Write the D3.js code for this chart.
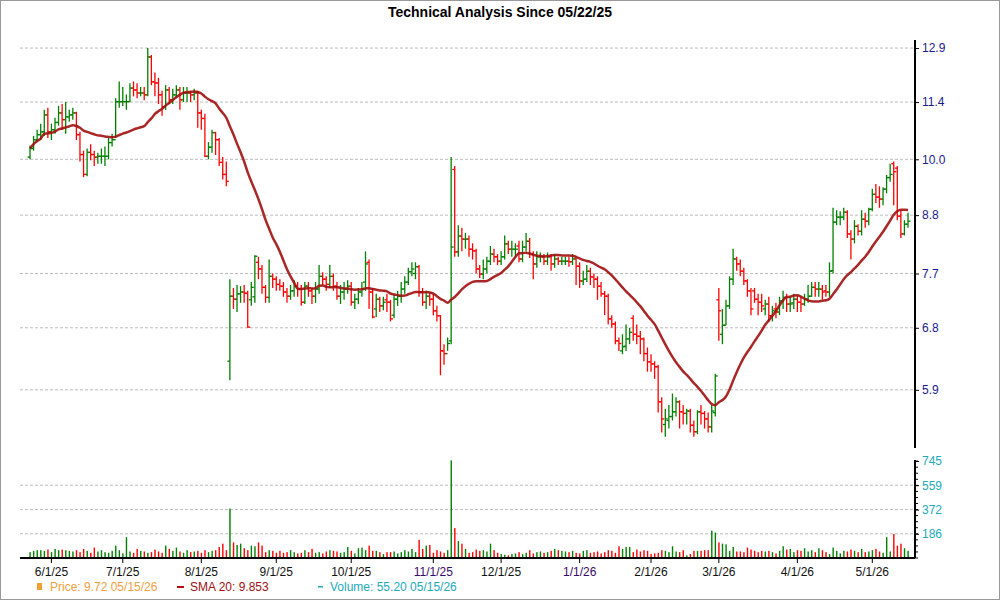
<!DOCTYPE html>
<html><head><meta charset="utf-8">
<script src="https://cdn.jsdelivr.net/npm/d3@7"></script>
<style>body{margin:0;background:#fff}svg{font-family:Arial,"Liberation Sans",sans-serif}</style>
</head><body><svg id="c" width="1000" height="600"></svg>
<script>
const holidays=["2025-05-26","2025-06-19","2025-07-04","2025-09-01","2025-11-27","2025-12-25","2026-01-01","2026-01-19","2026-02-16","2026-04-03"];
const priceTicks=[5.9,6.8,7.7,8.8,10.0,11.4,12.9];
const volTicks=[186,372,559,745];
const closeV=[10.25,10.46,10.58,10.65,11.07,10.65,10.70,10.88,11.12,10.95,
11.02,11.07,11.12,10.58,10.11,9.66,10.16,10.11,10.05,10.07,
10.07,10.07,10.39,10.46,11.41,11.41,11.41,11.41,11.77,11.72,
11.64,11.64,11.59,12.64,11.94,11.91,11.59,11.28,11.72,11.46,
11.59,11.72,11.46,11.64,11.64,11.59,11.64,11.12,10.98,10.07,
10.28,10.63,10.46,9.93,9.66,9.51,7.31,7.26,7.35,7.38,
7.36,6.81,7.46,8.01,7.78,7.46,7.29,7.65,7.60,7.51,
7.48,7.38,7.31,7.40,7.48,7.43,7.21,7.48,7.40,7.31,
7.43,7.65,7.60,7.51,7.65,7.48,7.31,7.38,7.43,7.48,
7.21,7.26,7.38,7.43,7.87,7.38,6.97,7.26,7.15,7.21,
7.21,6.94,7.26,7.31,7.43,7.55,7.73,7.78,7.82,7.38,
7.21,7.31,7.26,7.07,6.99,6.45,6.41,6.56,8.18,8.09,
8.39,8.33,8.33,8.14,8.11,7.78,7.69,7.78,7.92,8.05,
8.00,7.92,8.00,8.24,8.14,8.14,8.14,7.96,8.18,8.29,
8.05,7.87,8.00,8.00,7.92,8.00,7.87,7.96,7.92,7.92,
7.92,7.91,7.96,7.83,7.57,7.60,7.74,7.64,7.60,7.48,
7.35,7.31,6.94,6.86,6.60,6.56,6.51,6.63,6.73,6.70,
6.67,6.63,6.41,6.29,6.26,6.22,5.74,5.52,5.52,5.55,
5.61,5.74,5.61,5.59,5.62,5.44,5.36,5.61,5.59,5.52,
5.42,5.62,6.09,7.07,6.84,7.15,7.60,7.96,7.87,7.74,
7.57,7.40,7.10,7.26,7.21,7.15,7.18,6.99,7.07,7.05,
7.23,7.29,7.18,7.18,7.26,7.21,7.18,7.26,7.31,7.46,
7.43,7.43,7.38,7.38,7.74,8.66,8.76,8.76,8.86,8.43,
8.33,8.58,8.48,8.72,8.68,8.92,9.23,9.17,9.13,9.34,
9.59,9.66,9.72,8.78,8.43,8.62,8.68];
const openV=[10.05,10.25,10.46,10.58,10.65,11.07,10.65,10.70,10.88,11.12,
10.95,11.02,11.07,11.12,10.58,10.11,9.66,10.16,10.11,10.05,
10.07,10.07,10.07,10.39,10.46,11.41,11.41,11.41,11.41,11.77,
11.72,11.64,11.64,11.59,12.64,11.94,11.91,11.59,11.28,11.72,
11.46,11.59,11.72,11.46,11.64,11.64,11.59,11.64,11.12,10.98,
10.07,10.28,10.63,10.46,9.93,9.66,6.30,7.31,7.26,7.35,
7.38,7.36,7.25,7.30,7.90,7.78,7.46,7.29,7.65,7.60,
7.51,7.48,7.38,7.31,7.40,7.48,7.43,7.21,7.48,7.40,
7.31,7.43,7.65,7.60,7.51,7.65,7.48,7.31,7.38,7.43,
7.48,7.21,7.26,7.38,7.55,7.90,7.38,7.10,7.26,7.15,
7.25,7.21,7.00,7.26,7.31,7.43,7.55,7.73,7.70,7.82,
7.38,7.21,7.31,7.26,7.07,6.99,6.45,6.41,6.60,9.77,
8.09,8.39,8.33,8.33,8.14,8.11,7.78,7.69,7.78,7.92,
8.05,8.00,7.92,8.00,8.24,8.14,8.14,8.20,7.96,8.18,
8.29,8.05,7.87,8.00,8.00,7.92,8.00,7.87,7.96,7.92,
7.92,7.92,7.91,7.96,7.83,7.57,7.60,7.74,7.64,7.60,
7.48,7.35,7.31,6.94,6.86,6.60,6.45,6.52,6.63,6.95,
6.70,6.67,6.63,6.41,6.29,6.26,6.22,5.74,5.45,5.50,
5.55,5.61,5.74,5.61,5.59,5.62,5.44,5.36,5.61,5.59,
5.52,5.42,5.60,7.25,6.70,6.84,7.15,7.60,7.96,7.87,
7.74,7.57,7.40,7.40,7.26,7.21,7.10,7.18,6.99,7.10,
7.05,7.23,7.29,7.18,7.20,7.26,7.21,7.18,7.26,7.31,
7.46,7.43,7.43,7.40,7.38,7.75,8.66,8.76,8.76,8.86,
8.43,8.33,8.58,8.48,8.72,8.68,8.92,9.23,9.17,9.13,
9.34,9.59,9.90,9.80,8.78,8.43,8.62];
const highV=[10.32,10.55,10.70,10.85,11.20,11.25,10.85,11.00,11.30,11.35,
11.40,11.20,11.25,11.15,10.65,10.20,10.25,10.35,10.20,10.15,
10.25,10.30,10.50,10.60,11.50,11.95,11.80,11.60,11.90,11.95,
11.90,11.80,11.80,12.90,12.70,12.20,12.05,11.70,11.85,11.80,
11.75,11.85,11.80,11.80,11.80,11.70,11.75,11.70,11.20,11.10,
10.40,10.70,10.65,10.50,10.05,9.95,7.60,7.45,7.50,7.48,
7.50,7.40,7.55,8.03,8.00,7.85,7.50,7.95,7.70,7.65,
7.60,7.55,7.45,7.50,7.58,7.55,7.50,7.55,7.55,7.45,
7.55,7.85,7.72,7.65,7.85,7.70,7.55,7.50,7.55,7.58,
7.55,7.35,7.45,7.55,8.10,7.95,7.45,7.35,7.30,7.30,
7.35,7.25,7.35,7.40,7.55,7.65,7.80,7.90,7.90,7.85,
7.45,7.40,7.38,7.35,7.15,7.00,6.55,6.65,10.05,9.85,
8.60,8.55,8.45,8.40,8.25,8.15,7.85,7.95,8.00,8.20,
8.15,8.05,8.10,8.40,8.30,8.30,8.25,8.30,8.30,8.45,
8.35,8.10,8.10,8.08,8.05,8.08,8.05,8.05,8.00,8.00,
8.00,8.00,8.05,8.00,7.90,7.75,7.85,7.80,7.70,7.65,
7.55,7.40,7.35,7.00,6.90,6.65,6.70,6.85,6.80,7.00,
6.85,6.75,6.65,6.50,6.40,6.30,6.25,5.80,5.65,5.70,
5.85,5.80,5.76,5.70,5.65,5.65,5.50,5.63,5.70,5.62,
5.60,5.70,6.12,7.45,7.10,7.25,7.65,8.15,8.00,7.95,
7.80,7.60,7.45,7.45,7.35,7.35,7.25,7.30,7.15,7.20,
7.30,7.40,7.35,7.30,7.35,7.32,7.30,7.35,7.50,7.55,
7.55,7.55,7.50,7.50,7.90,8.95,8.90,8.88,8.95,8.90,
8.50,8.70,8.62,8.90,8.85,8.95,9.35,9.45,9.40,9.38,
9.65,9.90,9.95,9.85,8.90,8.70,8.85];
const lowV=[10.00,10.20,10.40,10.45,10.55,10.50,10.45,10.60,10.80,10.70,
10.60,10.90,10.95,10.45,9.95,9.60,9.62,9.98,9.85,9.90,
9.90,9.85,10.00,10.30,10.50,11.25,11.30,11.20,11.40,11.55,
11.50,11.55,11.45,11.55,11.85,11.55,11.35,11.05,11.20,11.35,
11.35,11.50,11.20,11.40,11.40,11.40,11.45,10.75,10.70,10.05,
10.00,10.15,10.10,9.85,9.55,9.40,6.03,7.10,7.05,7.20,
7.20,6.80,7.15,7.20,7.60,7.35,7.20,7.20,7.45,7.40,
7.40,7.30,7.20,7.25,7.30,7.30,7.15,7.18,7.30,7.18,
7.20,7.35,7.50,7.40,7.45,7.40,7.25,7.18,7.25,7.35,
7.15,7.10,7.18,7.30,7.40,7.10,6.95,6.97,7.05,7.08,
7.05,6.90,6.95,7.15,7.20,7.35,7.50,7.65,7.60,7.30,
7.15,7.10,7.15,7.00,6.90,6.10,6.25,6.45,6.55,8.00,
8.00,8.10,8.15,8.00,7.95,7.70,7.62,7.60,7.70,7.85,
7.90,7.85,7.85,7.95,8.05,8.00,8.00,7.90,7.90,8.10,
7.98,7.60,7.80,7.90,7.85,7.85,7.75,7.80,7.85,7.85,
7.85,7.82,7.85,7.50,7.45,7.50,7.55,7.50,7.45,7.25,
7.30,7.00,6.85,6.80,6.55,6.45,6.40,6.45,6.55,6.60,
6.55,6.40,6.30,6.15,6.15,6.05,5.60,5.35,5.30,5.40,
5.50,5.55,5.40,5.45,5.45,5.35,5.30,5.33,5.45,5.40,
5.35,5.35,5.55,6.60,6.55,6.84,7.10,7.50,7.75,7.65,
7.50,7.30,7.00,7.20,7.00,7.05,7.00,6.90,6.90,6.95,
7.00,7.10,7.05,7.05,7.10,7.05,7.05,7.15,7.20,7.30,
7.30,7.30,7.25,7.30,7.30,7.70,8.60,8.60,8.70,8.35,
7.95,8.25,8.40,8.40,8.55,8.60,8.88,9.05,8.95,9.00,
9.25,9.50,9.00,8.70,8.35,8.40,8.55];
const volumeV=[45,55,60,60,55,65,45,70,60,65,
60,55,50,60,45,70,55,40,80,50,
60,45,40,55,95,60,35,160,50,40,
70,55,50,40,45,65,50,40,95,70,
55,80,50,40,60,45,50,55,40,60,
45,55,60,85,110,60,380,120,100,110,
75,60,95,90,120,95,45,60,55,40,
55,40,45,60,45,35,40,60,45,70,
40,45,35,50,60,55,50,40,45,85,
55,35,75,80,60,95,55,55,45,30,
45,45,50,35,45,60,50,70,45,140,
70,95,100,40,60,50,40,60,750,230,
130,110,70,40,45,65,55,60,50,110,
60,40,30,25,20,30,35,45,30,40,
60,35,45,50,40,45,55,70,60,55,
50,45,55,40,35,55,60,40,45,50,
35,45,60,55,40,90,70,85,85,45,
65,50,60,55,30,35,40,60,55,45,
90,50,45,60,20,30,55,55,55,60,
60,210,195,120,110,105,55,85,50,50,
45,80,65,55,45,55,50,55,45,35,
55,90,65,70,45,60,55,75,50,60,
45,75,60,45,30,80,55,35,55,50,
65,55,45,70,45,50,60,70,50,40,
160,50,185,95,110,75,55];

// trading days
const fmt=d3.timeFormat("%Y-%m-%d");
const dates=[];
for(let d=new Date(2025,4,22);d<=new Date(2026,4,15);d=d3.timeDay.offset(d,1)){
  const wd=d.getDay(); if(wd===0||wd===6) continue;
  if(holidays.includes(fmt(d))) continue; dates.push(new Date(d));
}
const n=closeV.length;
const data=d3.range(n).map(i=>({i,date:dates[i],o:openV[i],h:highV[i],l:lowV[i],c:closeV[i],v:volumeV[i]}));
const sma=data.map((d,i)=>{const s=closeV.slice(Math.max(0,i-19),i+1);return d3.mean(s);});

const svg=d3.select("#c");
svg.append("rect").attr("x",0.5).attr("y",0.5).attr("width",999).attr("height",599).attr("fill","#fff").attr("stroke","#999");
svg.append("text").attr("x",500).attr("y",17).attr("text-anchor","middle").attr("font-size",14).attr("font-weight","bold").text("Technical Analysis Since 05/22/25");

const x=d3.scaleLinear().domain([0,246]).range([30,908]);
const y=d3.scaleLog().domain([5.2,13.05]).range([445,43]);
const yv=d3.scaleLinear().domain([0,745]).range([558,461]);
const L=20,R=915;

// grid
svg.append("g").selectAll("line").data(priceTicks).join("line").attr("x1",L).attr("x2",R)
 .attr("y1",d=>y(d)).attr("y2",d=>y(d)).attr("stroke","#bbb").attr("stroke-dasharray","3,2");
svg.append("g").selectAll("line").data(volTicks.slice(0,3)).join("line").attr("x1",L).attr("x2",R)
 .attr("y1",d=>yv(d)).attr("y2",d=>yv(d)).attr("stroke","#bbb").attr("stroke-dasharray","3,2");

// right axes
const ay=svg.append("g").attr("transform",`translate(${R},0)`).call(d3.axisRight(y).tickValues(priceTicks).tickFormat(d3.format(".1f")).tickSize(4));
ay.select(".domain").attr("stroke","#000").attr("stroke-width",2).attr("d",`M0,40V448`);
ay.selectAll("text").attr("fill","#1a1a8c").attr("font-size",12).attr("font-family","Arial");
const av=svg.append("g").attr("transform",`translate(${R},0)`).call(d3.axisRight(yv).tickValues(volTicks).tickSize(4));
av.select(".domain").attr("stroke","#000").attr("stroke-width",2).attr("d",`M0,460V558`);
av.selectAll("text").attr("fill","#22aabb").attr("font-size",12).attr("font-family","Arial");
// minor ticks volume
svg.append("g").selectAll("line").data(d3.range(0,745,46.5)).join("line").attr("x1",R).attr("x2",R+3)
 .attr("y1",d=>yv(d)).attr("y2",d=>yv(d)).attr("stroke","#000");

const col=d=>d.c>=d.o?"#008000":"#ff0000";
// OHLC bars
const g=svg.append("g").attr("stroke-width",1.3);
g.selectAll("line.hl").data(data).join("line").attr("x1",d=>x(d.i)).attr("x2",d=>x(d.i))
 .attr("y1",d=>y(d.h)).attr("y2",d=>y(d.l)).attr("stroke",col);
g.selectAll("line.o").data(data).join("line").attr("x1",d=>x(d.i)-2.5).attr("x2",d=>x(d.i))
 .attr("y1",d=>y(d.o)).attr("y2",d=>y(d.o)).attr("stroke",col);
g.selectAll("line.c").data(data).join("line").attr("x1",d=>x(d.i)).attr("x2",d=>x(d.i)+2.5)
 .attr("y1",d=>y(d.c)).attr("y2",d=>y(d.c)).attr("stroke",col);

// SMA
svg.append("path").datum(sma).attr("fill","none").attr("stroke","#a01010").attr("stroke-width",2.5).attr("stroke-opacity",0.9)
 .attr("d",d3.line().x((d,i)=>x(i)).y(d=>y(d)).curve(d3.curveMonotoneX));

// volume
svg.append("g").selectAll("rect").data(data).join("rect").attr("x",d=>x(d.i)-0.6).attr("width",1.4)
 .attr("y",d=>yv(d.v)).attr("height",d=>yv(0)-yv(d.v)).attr("fill",col);
svg.append("line").attr("x1",L).attr("x2",R).attr("y1",558).attr("y2",558).attr("stroke","#000").attr("stroke-width",2);

// month ticks
const monthIdx=data.filter((d,i)=>i>0&&d.date.getMonth()!==data[i-1].date.getMonth());
const mf=d=>`${d.getMonth()+1}/1/${String(d.getFullYear()).slice(2)}`;
svg.append("g").selectAll("line").data(monthIdx).join("line").attr("x1",d=>x(d.i)).attr("x2",d=>x(d.i))
 .attr("y1",558).attr("y2",563).attr("stroke","#000");
svg.append("g").selectAll("text").data(monthIdx).join("text").attr("x",d=>x(d.i)).attr("y",576)
 .attr("text-anchor","middle").attr("font-size",12).attr("fill",d=>(mf(d.date)==="11/1/25"||mf(d.date)==="1/1/26")?"#3a0a6a":"#111").text(d=>mf(d.date));

// legend
const lg=svg.append("g").attr("font-size",12);
lg.append("rect").attr("x",37).attr("y",583).attr("width",5).attr("height",7).attr("fill","#f0a030");
lg.append("text").attr("x",50).attr("y",591).attr("fill","#f0a040").text("Price: 9.72  05/15/26");
lg.append("rect").attr("x",177).attr("y",586).attr("width",7).attr("height",2).attr("fill","#b01010");
lg.append("text").attr("x",190).attr("y",591).attr("fill","#a01010").text("SMA 20: 9.853");
lg.append("rect").attr("x",318).attr("y",586).attr("width",5).attr("height",1.5).attr("fill","#22aabb");
lg.append("text").attr("x",330).attr("y",591).attr("fill","#22aabb").text("Volume: 55.20  05/15/26");
</script></body></html>
